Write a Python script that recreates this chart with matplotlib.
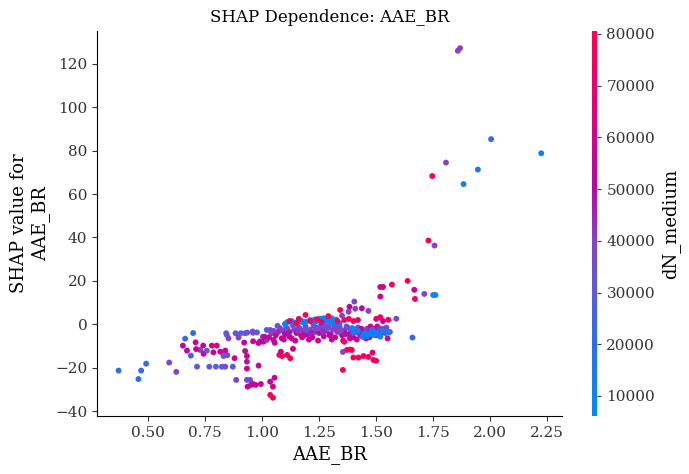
import matplotlib
matplotlib.use("Agg")
import matplotlib.pyplot as plt
import numpy as np
from matplotlib.colors import LinearSegmentedColormap

plt.rcParams["font.family"] = ["DejaVu Serif"]

# (feature value, SHAP value, dN_medium)
points = [
    # sparse left tail
    (0.370, -21.3, 22000), (0.457, -25.2, 22000), (0.469, -21.3, 22000), (0.491, -18.1, 24000),
    (0.592, -17.6, 38000), (0.623, -21.9, 38000), (0.652, -9.8, 55000), (0.662, -6.6, 24000),
    (0.670, -12.1, 55000), (0.687, -14.4, 28000), (0.697, -4.0, 22000), (0.708, -8.3, 55000),
    (0.714, -19.5, 30000), (0.728, -11.8, 40000), (0.710, -11.4, 55000), (0.743, -13.6, 55000),
    (0.741, -9.8, 55000), (0.757, -12.1, 30000), (0.768, -19.5, 30000), (0.779, -9.8, 65000),
    (0.801, -9.8, 65000), (0.786, -12.9, 55000), (0.797, -19.5, 30000), (0.816, -12.6, 55000),
    (0.823, -19.5, 34000), (0.838, -19.5, 34000), (0.838, -12.1, 55000), (0.830, -14.6, 36000),
    (0.847, -14.2, 36000), (0.845, -4.9, 30000), (0.852, -6.5, 40000), (0.871, -19.5, 30000),
    (0.879, -15.6, 55000), (0.883, -4.1, 30000), (0.886, -25.6, 40000), (0.896, -6.1, 40000),
    (0.906, -4.1, 30000), (0.921, -8.4, 55000), (0.925, -4.1, 30000), (0.925, -12.3, 55000),
    (0.933, -25.6, 36000), (0.933, -14.6, 55000), (0.933, -17.2, 48000), (0.936, -28.7, 55000),
    (0.933, -20.4, 65000), (0.947, -25.6, 38000), (0.951, -27.9, 55000), (0.960, -27.5, 55000),
    (0.971, -27.9, 55000), (0.984, -19.0, 55000), (0.994, -27.5, 55000), (0.960, -7.8, 55000),
    (0.960, -3.9, 30000), (0.977, -3.7, 30000), (0.984, -8.6, 55000), (1.003, -5.7, 40000),
    (1.006, -8.0, 55000), (1.035, -2.6, 40000), (1.035, -26.4, 55000), (1.047, -28.7, 55000),
    (1.054, -24.6, 55000), (1.035, -32.5, 78000), (1.047, -33.8, 78000), (1.075, -14.1, 78000),
    (1.087, -14.6, 78000), (1.109, -14.1, 78000), (1.123, -15.6, 78000), (1.135, -11.3, 60000),
    (1.082, -12.6, 60000), (0.842, -4.1, 30000), (0.934, -3.8, 32000), (0.958, -3.3, 38000),
    (1.020, -2.6, 30000), (1.040, -4.1, 40000), (1.067, -0.7, 32000), (1.078, -1.8, 40000),
    (1.020, -7.2, 40000), (1.050, -7.2, 55000), (1.086, -6.4, 55000), (1.120, -5.7, 55000),
    (1.010, -5.7, 55000), (0.990, -7.9, 55000), (1.050, -3.0, 40000), (1.060, -5.0, 55000),
    (1.070, -3.5, 45000), (1.030, -6.0, 55000), (1.055, -8.5, 55000),
    # dense cluster, purple / magenta body
    (1.09, -3.0, 40000), (1.10, -4.5, 55000), (1.11, -2.0, 38000), (1.12, -3.5, 45000),
    (1.13, -6.5, 55000), (1.14, -2.5, 40000), (1.15, -4.0, 50000), (1.16, -1.5, 36000),
    (1.17, -5.0, 55000), (1.18, -3.0, 42000), (1.19, -1.0, 38000), (1.20, -4.5, 50000),
    (1.21, -2.5, 40000), (1.22, -6.0, 55000), (1.23, -3.5, 45000), (1.24, -1.5, 38000),
    (1.25, -4.0, 50000), (1.26, -2.0, 40000), (1.27, -5.5, 55000), (1.28, -3.0, 45000),
    (1.29, -1.0, 38000), (1.30, -4.5, 50000), (1.31, -2.5, 40000), (1.32, -6.0, 55000),
    (1.33, -3.5, 42000), (1.34, -1.5, 38000), (1.35, -5.0, 55000), (1.36, -3.0, 45000),
    (1.37, -1.0, 40000), (1.38, -4.5, 50000), (1.39, -2.5, 42000), (1.40, -6.0, 55000),
    (1.41, -3.5, 45000), (1.42, -1.5, 38000), (1.43, -5.0, 55000), (1.44, -3.0, 45000),
    (1.45, -4.5, 50000), (1.46, -2.0, 40000), (1.47, -6.0, 55000), (1.48, -3.5, 45000),
    (1.49, -2.0, 38000), (1.50, -5.0, 55000), (1.51, -3.0, 40000), (1.52, -4.5, 45000),
    (1.53, -2.0, 38000), (1.54, -4.0, 40000), (1.56, -3.5, 38000), (1.588, 2.6, 36000),
    (1.55, -6.5, 55000), (1.105, -1.5, 32000), (1.135, -0.5, 34000), (1.165, -2.0, 36000),
    (1.195, -3.0, 34000), (1.225, -0.5, 36000), (1.255, -1.0, 34000), (1.285, -2.0, 36000),
    (1.315, -0.5, 34000), (1.345, -2.5, 36000), (1.375, -1.5, 34000), (1.205, -7.0, 55000),
    (1.245, -7.5, 55000), (1.145, -7.5, 55000), (1.305, -7.0, 55000), (1.355, -7.5, 60000),
    (1.385, -6.5, 55000), (1.415, -7.0, 58000), (1.435, -2.0, 60000), (1.455, -6.5, 60000),
    (1.475, -1.0, 60000), (1.505, -1.0, 60000), (1.095, -7.0, 55000), (1.175, -6.0, 60000),
    (1.115, -4.0, 48000), (1.185, -5.0, 52000), (1.215, -4.0, 46000), (1.265, -3.5, 44000),
    (1.295, -5.0, 52000), (1.325, -2.0, 40000), (1.365, -4.5, 48000), (1.395, -5.0, 52000),
    (1.425, -4.0, 46000), (1.465, -3.5, 44000), (1.515, -2.0, 42000), (1.545, -1.5, 38000),
    (1.235, -2.0, 36000), (1.275, -0.5, 34000), (1.155, -3.0, 42000), (1.335, 0.0, 36000),
    # blue band on top of the cluster
    (1.10, 0.2, 12000), (1.11, 1.0, 10000), (1.13, 1.5, 10000), (1.15, 0.8, 12000),
    (1.17, 1.8, 10000), (1.19, 1.2, 10000), (1.21, 2.0, 10000), (1.22, 1.0, 14000),
    (1.24, 1.5, 10000), (1.25, 2.5, 10000), (1.27, 2.8, 10000), (1.28, 1.5, 12000),
    (1.30, 1.0, 10000), (1.31, 2.0, 10000), (1.32, 1.2, 12000), (1.34, 0.5, 10000),
    (1.29, 2.5, 10000), (1.26, 2.6, 10000), (1.16, 1.0, 10000), (1.14, 0.5, 12000),
    (1.18, 0.8, 10000), (1.23, 2.2, 10000), (1.305, 2.8, 10000), (1.325, 2.2, 10000),
    # red sprinkled in the cluster
    (1.15, 0.5, 78000), (1.16, 2.5, 78000), (1.19, 4.3, 78000), (1.21, 1.5, 75000),
    (1.24, 2.3, 78000), (1.29, 3.8, 78000), (1.33, 1.5, 78000), (1.36, 2.0, 78000),
    (1.38, 2.5, 78000), (1.40, 1.5, 78000), (1.42, 2.0, 70000), (1.12, 1.5, 70000),
    (1.26, 1.0, 70000), (1.342, 6.6, 78000),
    # blue points on the right of the cluster
    (1.395, -1.7, 12000), (1.42, -3.0, 10000), (1.449, -4.1, 10000), (1.46, -5.5, 12000),
    (1.481, -2.6, 10000), (1.49, -5.0, 10000), (1.50, -4.0, 14000), (1.518, -5.7, 10000),
    (1.526, -3.0, 12000), (1.554, -3.8, 10000), (1.47, -4.5, 10000), (1.44, -5.8, 12000),
    (1.40, -4.0, 14000),
    # above the cluster
    (1.404, 10.5, 38000), (1.383, 8.1, 50000), (1.379, 5.8, 40000), (1.408, 7.2, 40000),
    (1.437, 7.4, 50000), (1.466, 6.2, 40000), (1.35, 4.0, 40000),
    (1.518, 3.3, 78000), (1.553, 2.1, 78000), (1.50, 2.5, 70000), (1.53, 1.5, 60000),
    # red group below the cluster
    (1.360, -8.0, 78000), (1.371, -11.8, 78000), (1.393, -11.8, 78000), (1.400, -15.3, 78000),
    (1.422, -15.3, 78000), (1.444, -14.6, 78000), (1.466, -15.0, 78000), (1.484, -13.0, 70000),
    (1.488, -16.4, 78000), (1.500, -16.8, 78000), (1.354, -21.0, 78000), (1.354, -12.7, 40000),
    (1.386, -11.6, 78000),
    # right tail
    (1.518, 17.2, 65000), (1.530, 17.2, 60000), (1.518, 12.8, 60000), (1.569, 18.3, 78000),
    (1.638, 20.0, 78000), (1.667, 15.9, 60000), (1.670, 11.7, 78000), (1.711, 14.0, 40000),
    (1.750, 13.5, 12000), (1.760, 13.5, 12000), (1.659, -6.1, 22000), (1.729, 38.6, 78000),
    (1.756, 36.3, 40000), (1.858, 126.0, 40000), (1.868, 127.2, 40000), (2.004, 85.3, 22000),
    (2.224, 78.8, 10000), (1.806, 74.5, 40000), (1.946, 71.3, 14000), (1.746, 68.3, 78000),
    (1.883, 64.6, 12000),
]

aae_br = np.array([p[0] for p in points])
shap_vals = np.array([p[1] for p in points])
dn_medium = np.array([p[2] for p in points])

# approximation of shap's red_blue colormap
red_blue = LinearSegmentedColormap.from_list("red_blue", [
    (0.0, (0 / 255, 139 / 255, 250 / 255)),
    (0.19, (40 / 255, 110 / 255, 240 / 255)),
    (0.32, (90 / 255, 90 / 255, 225 / 255)),
    (0.455, (135 / 255, 65 / 255, 200 / 255)),
    (0.59, (180 / 255, 10 / 255, 165 / 255)),
    (0.72, (210 / 255, 0 / 255, 140 / 255)),
    (1.0, (255 / 255, 0 / 255, 82 / 255)),
])

fig = plt.figure(figsize=(6.89, 4.74), dpi=100)
ax = fig.add_axes([0.141, 0.122, 0.675, 0.813])
cax = fig.add_axes([0.859, 0.122, 0.008, 0.813])

sc = ax.scatter(aae_br, shap_vals, c=dn_medium, cmap=red_blue, vmin=6100, vmax=80600,
                s=18, linewidths=0, alpha=1)

ax.set_xlim(0.276, 2.316)
ax.set_ylim(-42.3, 135.2)
ax.set_xticks([0.5, 0.75, 1.0, 1.25, 1.5, 1.75, 2.0, 2.25])
ax.set_xticklabels(["0.50", "0.75", "1.00", "1.25", "1.50", "1.75", "2.00", "2.25"])
ax.set_yticks([-40, -20, 0, 20, 40, 60, 80, 100, 120])
ax.spines["top"].set_visible(False)
ax.spines["right"].set_visible(False)
ax.tick_params(labelsize=11, color="#333333", labelcolor="#333333")
ax.set_xlabel("AAE_BR", fontsize=13)
ax.set_ylabel("SHAP value for\nAAE_BR", fontsize=13)
ax.set_title("SHAP Dependence: AAE_BR", fontsize=12)

cb = fig.colorbar(sc, cax=cax)
cb.outline.set_visible(False)
cb.set_ticks([10000, 20000, 30000, 40000, 50000, 60000, 70000, 80000])
cb.ax.tick_params(labelsize=11, length=3, color="#333333", labelcolor="#333333")
cb.set_label("dN_medium", fontsize=13)

fig.savefig("out.png", dpi=100)
